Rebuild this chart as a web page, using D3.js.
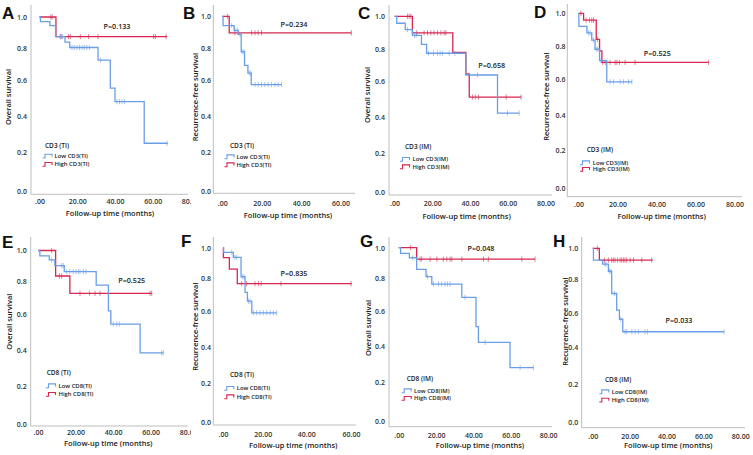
<!DOCTYPE html>
<html><head><meta charset="utf-8">
<script src="https://cdn.jsdelivr.net/npm/d3@7/dist/d3.min.js"></script>
<style>html,body{margin:0;padding:0;background:#fff;}svg{display:block;}</style>
</head><body>
<script>
// ---------------- DATA ----------------
// events: [time (months), survival after the step]; end: last follow-up; censor: censored times
const yTickValues = [0, 0.2, 0.4, 0.6, 0.8, 1.0];
const xTicks80 = [0, 20, 40, 60, 80];
const xTicks60 = [0, 20, 40, 60];
const groupNames = ["Low", "High"];

// A: CD3 (TI) overall survival
const aLowEvents = [[0.5,0.97],[5.5,0.945],[8.5,0.875],[13.5,0.84],[16,0.805],[31,0.725],[37.5,0.555],[40,0.48],[55.5,0.25]];
const aLowEnd = 68;
const aLowCensor = [11,12,17.2,18.4,19.8,21.2,22.5,23.7,25.1,26.5,32.3,41,42.4,43.7,45,67.6];
const aHighEvents = [[8.7,0.875]];
const aHighEnd = 67.7;
const aHighCensor = [6,6.7,11,11.9,15.4,16.3,21.6,26,31,60.5,61.4,67.1];

// B: CD3 (TI) recurrence-free survival
const bLowEvents = [[0.4,0.94],[6,0.91],[8,0.885],[9.6,0.775],[11.3,0.69],[13,0.643],[14.7,0.574]];
const bLowEnd = 30;
const bLowCensor = [4.8,6.4,7.6,9,10.1,11,13.7,14.4,16.6,18.2,19.9,21.6,23.3,25,26.7,28.4,30];
const bHighEvents = [[3.5,0.895]];
const bHighEnd = 65.5;
const bHighCensor = [2.7,6.4,8.1,14.9,16.6,18.2,19.9,65.5];

// C: CD3 (IM) overall survival
const cLowEvents = [[1.2,0.958],[5.7,0.919],[9.5,0.885],[14.3,0.83],[17,0.775],[37.8,0.638],[54.6,0.42]];
const cLowEnd = 66.1;
const cLowCensor = [6.9,10.6,11.5,18,20.7,22.8,24.2,25.4,29,32,44,59.9,66.1];
const cHighEvents = [[9.5,0.9],[30.9,0.78],[37.8,0.645],[39.6,0.51]];
const cHighEnd = 67.1;
const cHighCensor = [6.9,7.8,8.7,11.8,15.7,17.5,19.3,21,22.8,24.6,26.3,27.2,41.3,42.8,44.5,59.2,67.1];

// D: CD3 (IM) recurrence-free survival
const dLowEvents = [[0.2,0.92],[4.3,0.88],[6.8,0.836],[8.5,0.78],[10.8,0.71],[14.5,0.583]];
const dLowEnd = 27.4;
const dLowCensor = [5.1,6,7.7,9.1,9.9,11.5,16.2,17.9,21.4,23.1,25.6,27.4];
const dHighEvents = [[2.6,0.958],[9.1,0.84],[10.8,0.77],[12,0.70]];
const dHighEnd = 66.7;
const dHighCensor = [1.2,3.9,5.6,6.8,7.7,9.7,12.3,13.7,16.2,18.8,19.7,21,23.9,29,66.7];

// E: CD8 (TI) overall survival
const eLowEvents = [[1,0.964],[6,0.938],[9,0.9],[14,0.86],[31,0.774],[37.5,0.62],[38.8,0.545],[54.4,0.383]];
const eLowEnd = 66.8;
const eLowCensor = [7.3,12.6,13.5,15.3,17,18.8,20.2,21.5,22.4,24.2,25.6,40.1,41.9,43.3,65.9,66.8];
const eHighEvents = [[9.4,0.831],[17,0.725]];
const eHighEnd = 60.6;
const eHighCensor = [7.3,11.4,12.6,22.4,27.4,30.4,33,59.7,60.6];

// F: CD8 (TI) recurrence-free survival
const fLowEvents = [[0.3,0.97],[5.2,0.937],[9.1,0.81],[11.1,0.714],[12.3,0.66],[14.5,0.59]];
const fLowEnd = 26.4;
const fLowCensor = [4.4,6,6.9,9.7,10.6,12.8,13.6,15.3,17,18.7,20.3,21.8,23.4,24.9,26.4];
const fHighEvents = [[0.2,0.935],[3.2,0.86],[7.2,0.767]];
const fHighEnd = 60.3;
const fHighCensor = [9.4,11.9,16.1,17.8,19.2,28.4,60];

// G: CD8 (IM) overall survival
const gLowEvents = [[1,0.962],[5.7,0.933],[9.6,0.856],[14.6,0.807],[17.7,0.762],[33.8,0.682],[41.4,0.51],[42.7,0.419],[59.6,0.278]];
const gLowEnd = 72.1;
const gLowCensor = [7.5,15.4,18.6,21.3,23,24.8,26.1,27.5,35.5,46.3,65,72.1];
const gHighEvents = [[9.6,0.924]];
const gHighEnd = 73;
const gHighCensor = [6.4,11.4,12.3,16.8,20.4,23.9,25.7,27.5,28.4,33.8,45.4,48,65.9,73];

// H: CD8 (IM) recurrence-free survival
const hLowEvents = [[0.4,0.924],[5.4,0.898],[8.5,0.852],[10.3,0.715],[13,0.616],[14.5,0.562],[16.3,0.49]];
const hLowEnd = 71.2;
const hLowCensor = [6.7,7.2,9,9.8,11.8,15.2,17.5,18.4,21.2,23,24.8,28.4,29.7,71.2];
const hHighEvents = [[3.6,0.924]];
const hHighEnd = 32.5;
const hHighCensor = [2.5,6.3,8.5,10.3,11.2,12.1,13.4,14.8,15.7,16.6,17.5,18.4,20.3,22.1,26.6,32];

const pValues = ["P=0.133","P=0.234","P=0.658","P=0.525","P=0.525","P=0.835","P=0.048","P=0.033"];
const markers = ["CD3 (TI)","CD3 (TI)","CD3 (IM)","CD3 (IM)","CD8 (TI)","CD8 (TI)","CD8 (IM)","CD8 (IM)"];
const legendLabels = [
  ["Low CD3(TI)","High CD3(TI)"],["Low CD3(TI)","High CD3(TI)"],
  ["Low CD3(IM)","High CD3(IM)"],["Low CD3(IM)","High CD3(IM)"],
  ["Low CD8(TI)","High CD8(TI)"],["Low CD8(TI)","High CD8(TI)"],
  ["Low CD8(IM)","High CD8(IM)"],["Low CD8(IM)","High CD8(IM)"]];
const yTitles = ["Overall survival","Recurrence-free survival","Overall survival","Recurrence-free survival",
                 "Overall survival","Recurrence-free survival","Overall survival","Recurrence-free survival"];
const panelLetters = ["A","B","C","D","E","F","G","H"];
const xTitle = "Follow-up time (months)";

const series = [
  [{ev:aLowEvents,end:aLowEnd,cen:aLowCensor},{ev:aHighEvents,end:aHighEnd,cen:aHighCensor}],
  [{ev:bLowEvents,end:bLowEnd,cen:bLowCensor},{ev:bHighEvents,end:bHighEnd,cen:bHighCensor}],
  [{ev:cLowEvents,end:cLowEnd,cen:cLowCensor},{ev:cHighEvents,end:cHighEnd,cen:cHighCensor}],
  [{ev:dLowEvents,end:dLowEnd,cen:dLowCensor},{ev:dHighEvents,end:dHighEnd,cen:dHighCensor}],
  [{ev:eLowEvents,end:eLowEnd,cen:eLowCensor},{ev:eHighEvents,end:eHighEnd,cen:eHighCensor}],
  [{ev:fLowEvents,end:fLowEnd,cen:fLowCensor},{ev:fHighEvents,end:fHighEnd,cen:fHighCensor}],
  [{ev:gLowEvents,end:gLowEnd,cen:gLowCensor},{ev:gHighEvents,end:gHighEnd,cen:gHighCensor}],
  [{ev:hLowEvents,end:hLowEnd,cen:hLowCensor},{ev:hHighEvents,end:hHighEnd,cen:hHighCensor}]
];
const xTickSets = [xTicks80, xTicks60, xTicks80, xTicks80, xTicks80, xTicks60, xTicks80, xTicks80];

// ---------------- LAYOUT ----------------
const layout = [
 {lx:2, ly:19, ax:31, top:5, bx:194.3, right:188, yPos:[191.3,152.3,116,80,48.3,17], xPos:[39.5,77.3,115,152.7,190.3],
  ytx:8.5, yty:97, xtx:110, xty:213, xtickY:201.7, ytickX:27, px:117, py:26,
  legT:[45,145.7], legS:42.5, legX:54.5, legY:[156,164.3], clip:191},
 {lx:183, ly:19, ax:213.3, top:5, bx:193.3, right:355, yPos:[191.3,152.3,115.7,80,47.7,16.3], xPos:[222.3,261.7,301.1,340.5],
  ytx:195, yty:97, xtx:288, xty:215, xtickY:203.3, ytickX:211, px:294, py:24,
  legT:[230,145.7], legS:224.5, legX:236.5, legY:[156.7,164.7]},
 {lx:358, ly:19, ax:389, top:5, bx:195, right:552, yPos:[191.7,153.3,116.7,81,49.3,16.3], xPos:[394.5,432.2,470,507.7,545.5],
  ytx:367.5, yty:95, xtx:466.7, xty:216, xtickY:203.3, ytickX:385, px:491.7, py:65,
  legT:[405,146.7], legS:400, legX:412.5, legY:[159.3,166.7]},
 {lx:534, ly:18, ax:567.3, top:4, bx:196.7, right:742, yPos:[188.3,150,115,78.7,46,13.3], xPos:[578.5,617.5,656.5,695.5,734.5],
  ytx:546.7, yty:96.7, xtx:661.7, xty:216, xtickY:205, ytickX:565.5, px:657.3, py:53.3,
  legT:[586.7,150], legS:580, legX:592.7, legY:[162.7,169.3]},
 {lx:2, ly:248, ax:30.7, top:237, bx:426, right:188, yPos:[424.3,386,349.7,314.3,280.7,250.5], xPos:[38,75.5,113.1,150.6,188.2],
  ytx:9.3, yty:321.7, xtx:108.3, xty:443.3, xtickY:432.3, ytickX:26.7, px:131.7, py:280.7,
  legT:[46.7,372.3], legS:46, legX:58.5, legY:[385.7,394.3], clip:191},
 {lx:181, ly:247, ax:213.3, top:237, bx:425, right:356, yPos:[422.3,383.3,346.7,311,278.3,247.7], xPos:[223,262.7,306.3,351],
  ytx:195, yty:326.7, xtx:293.3, xty:445, xtickY:434.3, ytickX:211, px:294, py:273.3,
  legT:[230,374.3], legS:224.3, legX:236.7, legY:[388.3,396.7]},
 {lx:360, ly:247, ax:389, top:237, bx:426.7, right:552, yPos:[421,381.7,345.7,311,277.7,247.7], xPos:[398.7,436.1,473.4,510.8,548.1],
  ytx:368, yty:328, xtx:480, xty:445.7, xtickY:435.7, ytickX:385, px:481, py:248.3,
  legT:[406.7,379], legS:401.7, legX:414, legY:[390.7,398.3]},
 {lx:553, ly:247, ax:581.7, top:237, bx:427.7, right:745, yPos:[421.7,384,347.3,312.7,279.3,248.3], xPos:[592.7,629.6,666.5,703.4,740.3],
  ytx:565, yty:321.7, xtx:668.3, xty:445.7, xtickY:436.7, ytickX:578.3, px:679, py:320.7,
  legT:[605,380], legS:599.3, legX:611.7, legY:[391.7,400]}
];

const colors = {Low:"#6a9ee8", High:"#d8264f"};
const FONT = "'Open Sans', 'Liberation Sans', Arial, sans-serif";
const W = 753, H = 455;

const svg = d3.select("body").append("svg").attr("width", W).attr("height", H)
  .style("font-family", FONT);
svg.append("rect").attr("width", W).attr("height", H).attr("fill", "#fff");
const defs = svg.append("defs");

function survAt(ev, t) {
  let s = 1;
  for (const [et, es] of ev) { if (et <= t + 1e-9) s = es; }
  return s;
}
const xFmt = v => v === 0 ? ".00" : v.toFixed(2);

layout.forEach((L, i) => {
  let g = svg.append("g");
  if (L.clip) {
    const id = "clip" + i;
    defs.append("clipPath").attr("id", id).append("rect")
      .attr("x", 0).attr("y", 0).attr("width", L.clip).attr("height", H);
    g.attr("clip-path", `url(#${id})`);
  }
  const x = d3.scaleLinear().domain(xTickSets[i]).range(L.xPos);
  const y = d3.scaleLinear().domain(yTickValues).range(L.yPos);

  // axis lines
  g.append("line").attr("x1", L.ax).attr("x2", L.ax).attr("y1", L.top).attr("y2", L.bx)
    .attr("stroke", "#b5b5b5").attr("stroke-width", 0.9);
  g.append("line").attr("x1", L.ax).attr("x2", L.right).attr("y1", L.bx).attr("y2", L.bx)
    .attr("stroke", "#b5b5b5").attr("stroke-width", 0.9);

  // x tick labels
  const xa = g.append("g").attr("transform", `translate(0,${L.xtickY})`)
    .call(d3.axisBottom(x).tickValues(xTickSets[i]).tickFormat(xFmt).tickSize(0).tickPadding(0));
  xa.select(".domain").remove();
  xa.selectAll("text").attr("y", 0).attr("dy", "0.35em")
    .attr("font-size", 7).attr("font-family", FONT).attr("font-weight", 600).attr("fill", "#333");

  // y tick labels
  const ya = g.append("g").attr("transform", `translate(${L.ytickX},0)`)
    .call(d3.axisLeft(y).tickValues(yTickValues).tickFormat(d3.format(".1f")).tickSize(0).tickPadding(0));
  ya.select(".domain").remove();
  ya.selectAll("text").attr("x", 0).attr("dy", "0.35em")
    .attr("font-size", 7).attr("font-family", FONT).attr("font-weight", 600).attr("fill", "#333");

  // titles
  g.append("text").attr("x", L.xtx).attr("y", L.xty).attr("dy", "0.35em").attr("text-anchor", "middle")
    .attr("font-size", 7.5).attr("font-weight", 600).attr("fill", "#222").text(xTitle);
  g.append("text").attr("transform", `translate(${L.ytx},${L.yty}) rotate(-90)`).attr("dy", "0.35em")
    .attr("text-anchor", "middle").attr("font-size", 7.5).attr("font-weight", 600).attr("fill", "#222").text(yTitles[i]);
  svg.append("text").attr("x", L.lx).attr("y", L.ly).attr("font-size", 17).attr("font-weight", "bold")
    .attr("font-family", "'Liberation Sans', Arial, sans-serif")
    .attr("fill", "#111").text(panelLetters[i]);

  // curves
  const line = d3.line().curve(d3.curveStepAfter).x(d => x(d[0])).y(d => y(d[1]));
  [1, 0].forEach(k => {
    const s = series[i][k];
    const col = colors[groupNames[k]];
    const pts = [[0, 1], ...s.ev, [s.end, survAt(s.ev, s.end)]];
    g.append("path").attr("d", line(pts)).attr("fill", "none")
      .attr("stroke", col).attr("stroke-width", 1.3);
    g.append("g").selectAll("line").data(s.cen).join("line")
      .attr("x1", d => x(d)).attr("x2", d => x(d))
      .attr("y1", d => y(survAt(s.ev, d)) - 2.6).attr("y2", d => y(survAt(s.ev, d)) + 2.6)
      .attr("stroke", col).attr("stroke-width", 0.8).attr("opacity", 0.75);
  });

  // p value
  g.append("text").attr("x", L.px).attr("y", L.py).attr("dy", "0.35em").attr("text-anchor", "middle")
    .attr("font-size", 7.2).attr("font-weight", 600).attr("fill", "#222").text(pValues[i]);

  // legend
  g.append("text").attr("x", L.legT[0]).attr("y", L.legT[1]).attr("dy", "0.35em")
    .attr("font-size", 6.5).attr("font-weight", 600).attr("fill", "#222").text(markers[i]);
  groupNames.forEach((gn, k) => {
    const ty = L.legY[k], sx = L.legS;
    g.append("path").attr("d", `M${sx},${ty + 2}H${sx + 2.5}V${ty - 1.8}H${sx + 9.5}V${ty + 0.8}`)
      .attr("fill", "none").attr("stroke", colors[gn]).attr("stroke-width", 1.1);
    g.append("text").attr("x", L.legX).attr("y", ty).attr("dy", "0.35em")
      .attr("font-size", 5.9).attr("font-weight", 600).attr("fill", "#222").text(legendLabels[i][k]);
  });
});
</script>
</body></html>
